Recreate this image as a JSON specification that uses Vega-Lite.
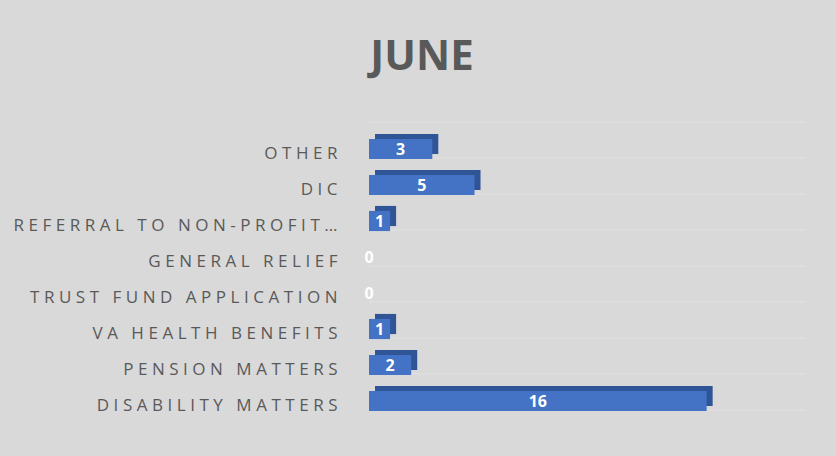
{
  "$schema": "https://vega.github.io/schema/vega-lite/v6.json",
  "width": 436,
  "height": 288,
  "autosize": {"type": "none"},
  "padding": {"left": 369, "top": 131, "right": 31, "bottom": 37},
  "background": "#d9d9d9",
  "title": {
    "text": "JUNE",
    "font": "Open Sans",
    "fontSize": 42,
    "fontWeight": "bold",
    "color": "#595959",
    "anchor": "middle",
    "dx": -165,
    "baseline": "alphabetic",
    "offset": 10
  },
  "config": {"view": {"stroke": null}},
  "data": {
    "values": [
      {"category": "OTHER", "value": 3},
      {"category": "DIC", "value": 5},
      {"category": "REFERRAL TO NON-PROFIT…", "value": 1},
      {"category": "GENERAL RELIEF", "value": 0},
      {"category": "TRUST FUND APPLICATION", "value": 0},
      {"category": "VA HEALTH BENEFITS", "value": 1},
      {"category": "PENSION MATTERS", "value": 2},
      {"category": "DISABILITY MATTERS", "value": 16}
    ]
  },
  "encoding": {
    "y": {
      "field": "category",
      "type": "nominal",
      "sort": null,
      "scale": {"paddingInner": 0, "paddingOuter": 0},
      "axis": {
        "title": null,
        "domain": false,
        "ticks": false,
        "grid": false,
        "labelFont": "Open Sans",
        "labelFontSize": 17,
        "labelColor": "#595959",
        "labelPadding": 32,
        "labelOffset": 5,
        "labelLimit": 400,
        "labelExpr": "join(split(datum.label, ''), '\u2009\u200a')"
      }
    }
  },
  "layer": [
    {
      "mark": {"type": "rule", "color": "#e1e1e1", "strokeWidth": 1},
      "encoding": {
        "y": {"field": "category", "type": "nominal", "sort": null, "bandPosition": 0.75}
      }
    },
    {
      "transform": [{"filter": "datum.category == 'OTHER'"}],
      "mark": {"type": "rule", "color": "#e1e1e1", "strokeWidth": 1},
      "encoding": {
        "y": {"field": "category", "type": "nominal", "sort": null, "bandPosition": -0.25}
      }
    },
    {
      "mark": {"type": "bar", "color": "#2f5597", "xOffset": 6, "x2Offset": 2, "yOffset": -5, "height": {"band": 0.56}},
      "encoding": {
        "x": {"field": "value", "type": "quantitative", "scale": {"domain": [0, 20.66], "nice": false}, "axis": null}
      }
    },
    {
      "mark": {"type": "bar", "color": "#4472c4", "height": {"band": 0.56}},
      "encoding": {
        "x": {"field": "value", "type": "quantitative", "scale": {"domain": [0, 20.66], "nice": false}, "axis": null}
      }
    },
    {
      "mark": {"type": "text", "color": "white", "font": "Open Sans", "fontWeight": "bold", "fontSize": 16, "align": "center", "baseline": "middle", "dy": 1},
      "encoding": {
        "x": {"field": "value", "type": "quantitative", "scale": {"domain": [0, 41.32], "nice": false}, "axis": null},
        "text": {"field": "value", "type": "quantitative"}
      }
    }
  ],
  "resolve": {"scale": {"x": "independent"}}
}
